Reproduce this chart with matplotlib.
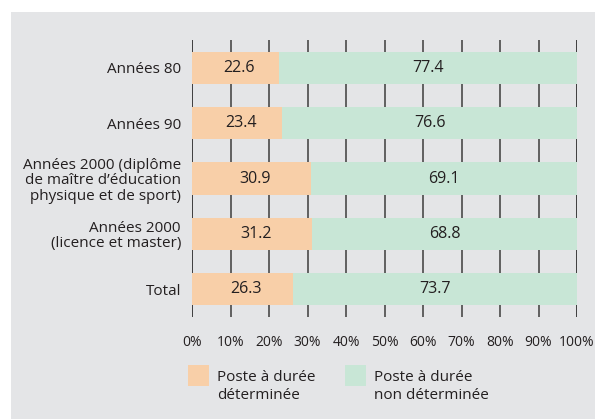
import matplotlib
matplotlib.use("Agg")
import matplotlib.pyplot as plt
from matplotlib.patches import Rectangle

categories = [
    "Années 80",
    "Années 90",
    "Années 2000 (diplôme\nde maître d\u2019éducation\nphysique et de sport)",
    "Années 2000\n(licence et master)",
    "Total",
]
determinee = [22.6, 23.4, 30.9, 31.2, 26.3]
non_determinee = [77.4, 76.6, 69.1, 68.8, 73.7]
series_labels = ["Poste à durée\ndéterminée", "Poste à durée\nnon déterminée"]
ticks = list(range(0, 101, 10))

plt.rcParams['font.family'] = ['Open Sans', 'DejaVu Sans']
text_col = '#231f20'
orange = '#f8cfa8'
green = '#c8e6d6'

W, H = 595, 419
fig = plt.figure(figsize=(W / 100, H / 100), dpi=100)
fig.patch.set_facecolor('white')
fig.add_artist(Rectangle((11 / W, 0), 1 - 11 / W, 1 - 12 / H,
                         transform=fig.transFigure, facecolor='#e4e5e7',
                         edgecolor='none', zorder=0))

ax = fig.add_axes([192 / W, 1 - 317 / H, 385 / W, 277 / H])
ax.set_facecolor('none')

y = list(range(len(categories)))
for t in ticks:
    c = '#111111' if t in (0, 100) else '#3c3c3c'
    ax.axvline(t, color=c, lw=1.1, zorder=1)

ax.barh(y, determinee, height=0.58, color=orange, zorder=2)
ax.barh(y, non_determinee, left=determinee, height=0.58, color=green, zorder=2)

for i in y:
    ax.text(determinee[i] / 2 + 1, i, f"{determinee[i]:.1f}", ha='center',
            va='center', fontsize=11.5, color=text_col, zorder=3)
    ax.text(determinee[i] + non_determinee[i] / 2, i, f"{non_determinee[i]:.1f}",
            ha='center', va='center', fontsize=11.5, color=text_col, zorder=3)

ax.set_xlim(0, 100)
ax.set_ylim(len(categories) - 0.5, -0.5)
ax.set_yticks(y)
ax.set_yticklabels(categories, fontsize=11, color=text_col, ha='right',
                   linespacing=1.05)
ax.set_xticks(ticks)
ax.set_xticklabels([f"{t}%" for t in ticks], fontsize=10, color=text_col)
ax.tick_params(axis='y', length=0, pad=8)
ax.tick_params(axis='x', length=0, pad=13)
for s in ax.spines.values():
    s.set_visible(False)

# legend
leg_x = [188, 345]
for lx, col, lab in zip(leg_x, [orange, green], series_labels):
    fig.add_artist(Rectangle((lx / W, 1 - 386 / H), 21 / W, 21 / H,
                             transform=fig.transFigure, facecolor=col,
                             edgecolor='none'))
    fig.text((lx + 29) / W, 1 - 370 / H, lab, ha='left', va='top',
             fontsize=11, color=text_col, linespacing=1.3)

fig.savefig('out.png', dpi=100)
